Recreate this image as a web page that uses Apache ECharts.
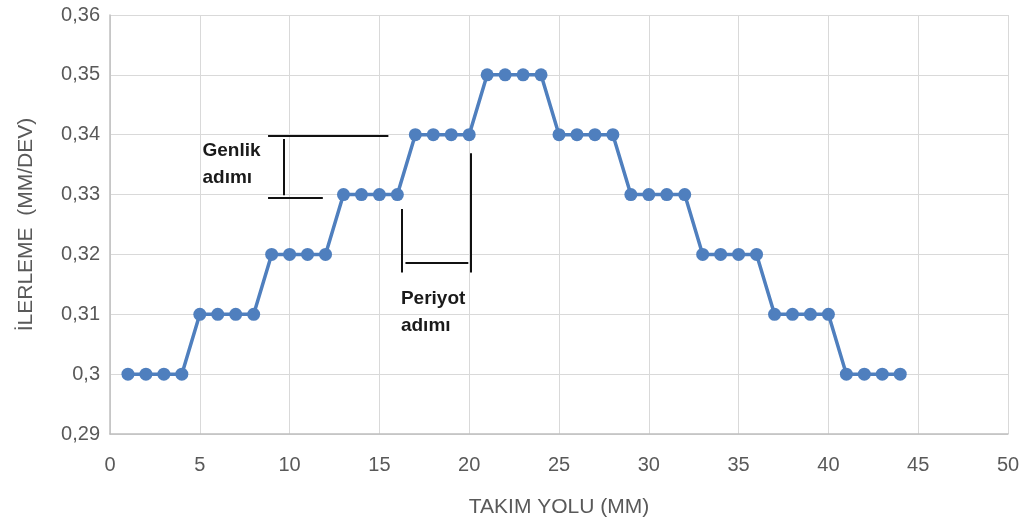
<!DOCTYPE html>
<html>
<head>
<meta charset="utf-8">
<script src="https://cdn.jsdelivr.net/npm/echarts@6/dist/echarts.min.js"></script>
<style>
  html, body { margin: 0; padding: 0; background: #fff; }
  #chart { width: 1030px; height: 528px; }
</style>
</head>
<body>
<div id="chart"></div>
<script>
// Tool path (mm) and feed (mm/rev) readings
const toolPath = [1, 2, 3, 4, 5, 6, 7, 8, 9, 10, 11, 12, 13, 14, 15, 16, 17, 18, 19, 20, 21, 22,
  23, 24, 25, 26, 27, 28, 29, 30, 31, 32, 33, 34, 35, 36, 37, 38, 39, 40, 41, 42, 43, 44];
const feed = [0.30, 0.30, 0.30, 0.30, 0.31, 0.31, 0.31, 0.31, 0.32, 0.32, 0.32, 0.32,
  0.33, 0.33, 0.33, 0.33, 0.34, 0.34, 0.34, 0.34, 0.35, 0.35, 0.35, 0.35,
  0.34, 0.34, 0.34, 0.34, 0.33, 0.33, 0.33, 0.33, 0.32, 0.32, 0.32, 0.32,
  0.31, 0.31, 0.31, 0.31, 0.30, 0.30, 0.30, 0.30];

const xTitle = 'TAKIM YOLU (MM)';
const yTitle = 'İLERLEME  (MM/DEV)';

// Bracket segments for the step annotations, in data units [[x1, y1], [x2, y2]]
const amplitudeBracket = [
  [[8.8, 0.3398], [15.5, 0.3398]],
  [[8.8, 0.3295], [11.85, 0.3295]],
  [[9.65, 0.3393], [9.65, 0.3299]]
];
const periodBracket = [
  [[16.25, 0.3276], [16.25, 0.3170]],
  [[20.1, 0.3369], [20.1, 0.3170]],
  [[16.45, 0.3186], [19.95, 0.3186]]
];
// Annotation captions: [text, x, y] with the text's left edge at x
const captions = [
  ['Genlik\nadımı', 5.15, 0.3350],
  ['Periyot\nadımı', 16.2, 0.3104]
];

const points = toolPath.map((x, i) => [x, feed[i]]);
const bracketLines = amplitudeBracket.concat(periodBracket).map(seg => [
  { coord: seg[0] }, { coord: seg[1] }
]);

const FONT = 'Liberation Sans';
const chart = echarts.init(document.getElementById('chart'));

const option = {
  backgroundColor: '#ffffff',
  animation: false,
  grid: { left: 110, right: 22, top: 15, bottom: 94, containLabel: false },
  xAxis: {
    type: 'value',
    min: 0, max: 50, interval: 5,
    name: xTitle,
    nameLocation: 'middle',
    nameGap: 63,
    nameTextStyle: { color: '#595959', fontSize: 21, fontFamily: FONT },
    axisLine: { show: true, lineStyle: { color: '#bfbfbf', width: 1.5 } },
    axisTick: { show: false },
    axisLabel: { color: '#595959', fontSize: 20, fontFamily: FONT, margin: 21 },
    splitLine: { show: true, lineStyle: { color: '#d9d9d9', width: 1 } }
  },
  yAxis: {
    type: 'value',
    min: 0.29, max: 0.36, interval: 0.01,
    name: yTitle,
    nameLocation: 'middle',
    nameGap: 73,
    nameTextStyle: { color: '#595959', fontSize: 21, fontFamily: FONT },
    axisLine: { show: true, lineStyle: { color: '#bfbfbf', width: 1.5 } },
    axisTick: { show: false },
    axisLabel: {
      color: '#595959', fontSize: 20, fontFamily: FONT, margin: 10,
      formatter: v => String(Math.round(v * 100) / 100).replace('.', ',')
    },
    splitLine: { show: true, lineStyle: { color: '#d9d9d9', width: 1 } }
  },
  series: [{
    type: 'line',
    data: points,
    symbol: 'circle',
    symbolSize: 13,
    lineStyle: { color: '#4F7FBE', width: 3.5 },
    itemStyle: { color: '#4F7FBE' },
    markLine: {
      silent: true,
      symbol: ['none', 'none'],
      label: { show: false },
      lineStyle: { color: '#111111', width: 2, type: 'solid' },
      emphasis: { disabled: true },
      data: bracketLines
    }
  }]
};
chart.setOption(option);

// Place the captions through the chart's own coordinate system
chart.setOption({
  graphic: captions.map(c => {
    const p = chart.convertToPixel({ gridIndex: 0 }, [c[1], c[2]]);
    return {
      type: 'text',
      x: p[0], y: p[1],
      style: {
        text: c[0],
        fill: '#1a1a1a',
        font: 'bold 19px "' + FONT + '"',
        lineHeight: 27,
        textAlign: 'left',
        textVerticalAlign: 'middle'
      }
    };
  })
});
</script>
</body>
</html>
